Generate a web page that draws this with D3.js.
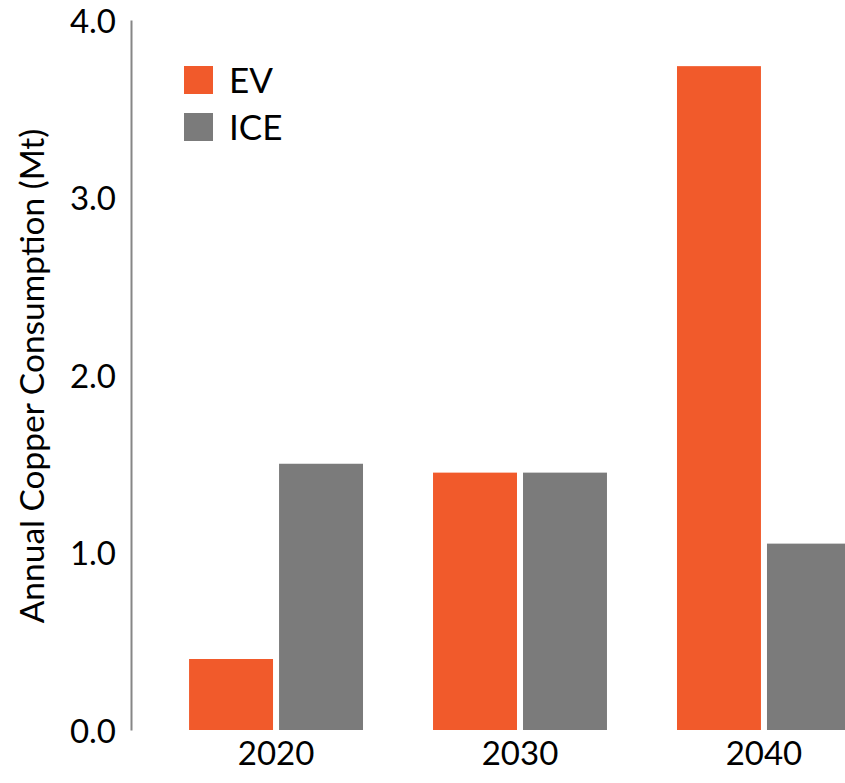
<!DOCTYPE html>
<html>
<head>
<meta charset="utf-8">
<script src="https://cdn.jsdelivr.net/npm/d3@7"></script>
<style>
  html, body { margin: 0; padding: 0; background: #fff; }
  svg { display: block; font-family: Lato, "Open Sans", sans-serif; }
</style>
</head>
<body>
<svg id="chart" width="845" height="783"></svg>
<script>
const categories = ["2020", "2030", "2040"];
const seriesNames = ["EV", "ICE"];
const evValues = [0.40, 1.45, 3.74];
const iceValues = [1.50, 1.45, 1.05];
const yTicks = [0, 1, 2, 3, 4];
const yTitle = "Annual Copper Consumption (Mt)";

const colors = { EV: "#F15A2B", ICE: "#7B7B7B" };
const rows = categories.map((c, i) => ({ cat: c, EV: evValues[i], ICE: iceValues[i] }));

const svg = d3.select("#chart");
const axisX = 131;

const y = d3.scaleLinear().domain([0, 4]).range([730, 20]);
const x0 = d3.scaleBand().domain(categories).range([axisX, 909])
  .paddingInner(0.287).paddingOuter(0.238);
const x1 = d3.scaleBand().domain(seriesNames).range([0, x0.bandwidth()])
  .paddingInner(0.067).paddingOuter(0);

// bars
const g = svg.append("g");
g.selectAll("g.grp").data(rows).join("g")
  .attr("class", "grp")
  .attr("transform", d => `translate(${x0(d.cat)},0)`)
  .selectAll("rect")
  .data(d => seriesNames.map(k => ({ key: k, value: d[k] })))
  .join("rect")
  .attr("x", d => x1(d.key))
  .attr("width", x1.bandwidth())
  .attr("y", d => y(d.value))
  .attr("height", d => y(0) - y(d.value))
  .attr("fill", d => colors[d.key]);

// y axis
const yAxis = svg.append("g")
  .attr("transform", `translate(${axisX},0)`)
  .call(d3.axisLeft(y).tickValues(yTicks).tickFormat(d3.format(".1f")).tickSize(0).tickPadding(15));
yAxis.select(".domain").attr("stroke", "#868686").attr("stroke-width", 2);
yAxis.selectAll("text").attr("font-size", 33).attr("fill", "#000")
  .attr("font-family", "Lato, 'Open Sans', sans-serif").attr("dy", "0.37em");

// x axis labels (no line)
const xAxis = svg.append("g")
  .attr("transform", `translate(0,${y(0)})`)
  .call(d3.axisBottom(x0).tickSize(0).tickPadding(12));
xAxis.select(".domain").remove();
xAxis.selectAll("text").attr("font-size", 33).attr("fill", "#000")
  .attr("font-family", "Lato, 'Open Sans', sans-serif");

// y title
svg.append("text")
  .attr("transform", `translate(44,376) rotate(-90)`)
  .attr("text-anchor", "middle")
  .attr("font-size", 33.5)
  .attr("fill", "#000")
  .text(yTitle);

// legend
const legend = svg.append("g").attr("transform", "translate(184,66)");
const li = legend.selectAll("g").data(seriesNames).join("g")
  .attr("transform", (d, i) => `translate(0,${i * 47})`);
li.append("rect").attr("width", 29).attr("height", 28).attr("fill", d => colors[d]);
li.append("text").attr("x", 45).attr("y", 14).attr("dy", "0.36em")
  .attr("font-size", 35).attr("fill", "#000").text(d => d);
</script>
</body>
</html>
